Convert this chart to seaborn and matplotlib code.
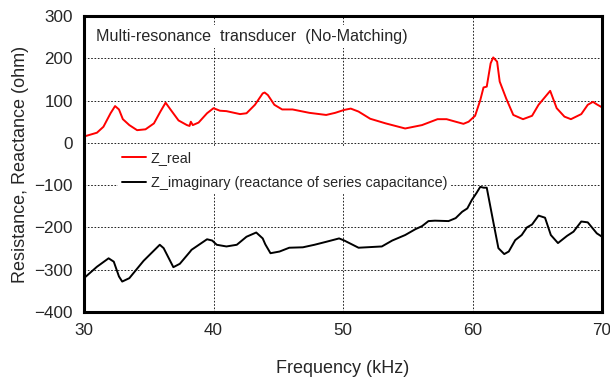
import matplotlib
matplotlib.use("Agg")
import matplotlib.pyplot as plt
from matplotlib.ticker import MultipleLocator
import pandas as pd
import seaborn as sns

# Resistance (real part) of the transducer impedance, ohm
freq_real = [30.0, 31.0, 31.5, 32.05, 32.4, 32.7, 33.0, 33.5, 34.1, 34.75, 35.4, 35.9,
             36.3, 36.7, 37.3, 37.95, 38.15, 38.25, 38.4, 38.85, 39.5, 40.0, 40.5, 41.0,
             42.05, 42.55, 43.2, 43.8, 43.95, 44.2, 44.7, 45.3, 46.1, 47.4, 48.7, 49.4,
             50.1, 50.6, 51.2, 52.1, 53.3, 54.8, 56.1, 57.3, 58.0, 58.7, 59.3, 59.7,
             60.2, 60.6, 60.85, 61.1, 61.4, 61.6, 61.9, 62.1, 62.6, 63.15, 63.9, 64.6,
             65.1, 66.0, 66.5, 67.1, 67.6, 68.4, 68.9, 69.3, 69.6, 70.0]
z_real = [15, 24, 38, 70, 87, 79, 56, 42, 30, 32, 46, 74,
          95, 78, 53, 42, 40, 50, 42, 48, 70, 82, 76, 75,
          68, 70, 90, 117, 119, 113, 90, 79, 79, 71, 66, 71,
          78, 81, 74, 57, 46, 34, 42, 56, 56, 50, 45, 50,
          64, 101, 131, 133, 188, 202, 192, 145, 105, 66, 56, 64,
          90, 123, 82, 62, 56, 68, 90, 97, 91, 84]

# Reactance (imaginary part) of the series capacitance, ohm
freq_imag = [30.0, 31.0, 31.9, 32.3, 32.7, 32.95, 33.5, 34.6, 35.85, 36.15, 36.9, 37.4,
             38.2, 38.3, 39.5, 39.9, 40.25, 41.0, 41.8, 42.55, 43.3, 43.8, 44.0, 44.4,
             45.1, 45.85, 46.9, 47.8, 48.7, 49.7, 50.1, 51.2, 53.0, 53.8, 54.8, 55.6,
             56.1, 56.6, 57.1, 58.15, 58.7, 59.2, 59.6, 59.95, 60.3, 60.6, 60.85, 61.1,
             61.6, 62.0, 62.45, 62.8, 63.3, 63.8, 64.2, 64.6, 65.1, 65.6, 66.05, 66.6,
             67.3, 67.8, 68.4, 68.9, 69.6, 70.0]
z_imag = [-320, -293, -273, -281, -316, -328, -320, -279, -241, -249, -294, -286,
          -257, -253, -228, -231, -241, -245, -241, -222, -212, -226, -240, -261,
          -257, -248, -247, -241, -234, -226, -231, -248, -245, -231, -218, -204,
          -197, -185, -184, -185, -178, -163, -155, -135, -119, -104, -106, -106,
          -186, -249, -263, -257, -230, -218, -200, -193, -172, -177, -218, -237,
          -220, -210, -186, -188, -214, -222]

series_names = ["Z_real", "Z_imaginary (reactance of series capacitance)"]
series_colors = ["#ff0000", "#000000"]
x_ticks = [30, 40, 50, 60, 70]
y_ticks = [-400, -300, -200, -100, 0, 100, 200, 300]

df = pd.concat([
    pd.DataFrame({"freq": freq_real, "value": z_real, "series": series_names[0]}),
    pd.DataFrame({"freq": freq_imag, "value": z_imag, "series": series_names[1]}),
], ignore_index=True)

sns.set_style("white")
plt.rcParams["font.family"] = ["Liberation Sans", "DejaVu Sans"]

fig = plt.figure(figsize=(6.10, 3.82), dpi=100)
ax = fig.add_axes([84 / 610, 1 - 312 / 382, 518 / 610, 296 / 382])

sns.lineplot(data=df, x="freq", y="value", hue="series", hue_order=series_names,
             palette=series_colors, linewidth=1.4, sort=False, ax=ax, legend=True)
for line in ax.get_lines():
    line.set_solid_joinstyle("round")

ax.set_xlim(30, 70)
ax.set_ylim(-400, 300)
ax.set_xticks(x_ticks)
ax.set_yticks(y_ticks)
ax.xaxis.set_minor_locator(MultipleLocator(1))
ax.yaxis.set_minor_locator(MultipleLocator(20))
ax.tick_params(which="both", direction="in", top=False, right=False, color="black")
ax.tick_params(which="major", length=5, width=1.5, labelsize=12.3, pad=8)
ax.tick_params(which="minor", length=3, width=1.5)
for sp in ax.spines.values():
    sp.set_linewidth(2.2)
    sp.set_color("black")

ax.grid(True, which="major", linestyle=(0, (2, 2)), color="black", linewidth=0.6)
ax.set_axisbelow(True)

ax.set_xlabel("Frequency (kHz)", fontsize=13, labelpad=16)
ax.set_ylabel("Resistance, Reactance (ohm)", fontsize=13, labelpad=4)

ax.text(0.023, 0.93, "Multi-resonance  transducer  (No-Matching)", transform=ax.transAxes,
        fontsize=11.6, va="center", ha="left", zorder=5,
        bbox=dict(facecolor="white", edgecolor="none", pad=3))

leg = ax.legend(loc="upper left", bbox_to_anchor=(0.052, 0.582), frameon=True,
                fontsize=10.4, handlelength=1.6, handletextpad=0.35, labelspacing=0.72,
                borderpad=0.3, fancybox=False)
leg.get_frame().set_facecolor("white")
leg.get_frame().set_edgecolor("none")
leg.get_frame().set_alpha(1)
for line in leg.get_lines():
    line.set_linewidth(1.4)

fig.savefig("out.png", dpi=100)
